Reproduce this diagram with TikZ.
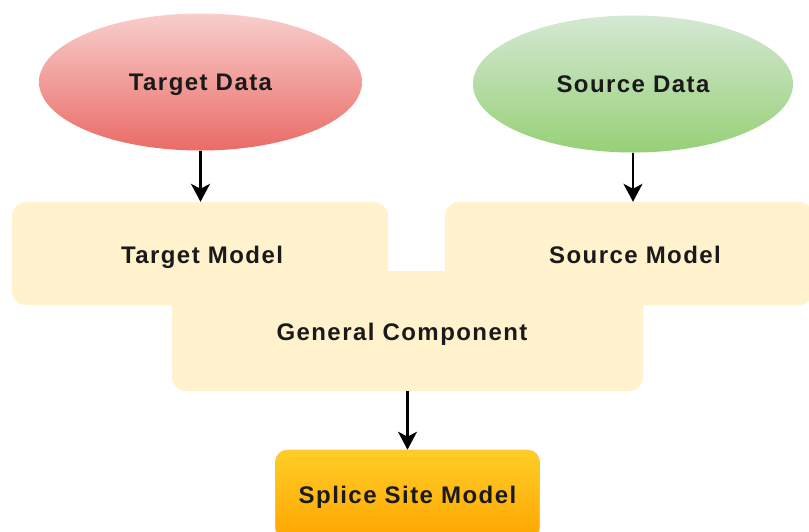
\documentclass[tikz,border=0pt]{standalone}
\usepackage{fontspec}
\newfontfamily\labfont{Liberation Sans}[LetterSpace=6]
\usetikzlibrary{shapes.geometric,arrows.meta}
\definecolor{redtop}{HTML}{F8CECC}
\definecolor{redbot}{HTML}{EA6B66}
\definecolor{greentop}{HTML}{D5E8D4}
\definecolor{greenbot}{HTML}{97D077}
\definecolor{modelfill}{HTML}{FFF2CC}
\definecolor{orangetop}{HTML}{FFCD28}
\definecolor{orangebot}{HTML}{FFA500}
\definecolor{txt}{HTML}{1A1A1A}
\tikzset{
  lab/.style={font=\labfont\bfseries\fontsize{24}{28}\selectfont, text=txt, text height=17pt, text depth=0pt},
  datanode/.style={ellipse, draw=none, inner sep=0pt, lab},
  modelbox/.style={rectangle, rounded corners=14pt, fill=modelfill, draw=none, inner sep=0pt},
  labelnode/.style={inner sep=0pt, lab},
  flow/.style={line width=2.2pt, draw=black, -{Stealth[width=19pt,length=18pt,inset=5pt]}}
}
\begin{document}
\begin{tikzpicture}[x=1pt,y=-1pt]
\useasboundingbox (0,0) rectangle (809,531);
\clip (0,0) rectangle (809,531);
% data ellipses
\node[datanode, minimum width=323pt, minimum height=137pt, top color=redtop, bottom color=redbot] (td) at (200.5,82) {Target Data};
\node[datanode, minimum width=320pt, minimum height=137pt, top color=greentop, bottom color=greenbot] (sd) at (633,84) {Source Data};
% model boxes (merged shape)
\node[modelbox, minimum width=376pt, minimum height=103pt] (tm) at (200,253.5) {};
\node[modelbox, minimum width=368pt, minimum height=103pt] (sm) at (629,253.5) {};
\node[modelbox, minimum width=471pt, minimum height=120pt] (gc) at (407.5,331) {};
\node[labelnode] (tml) at (202,255) {Target Model};
\node[labelnode] (sml) at (635,255) {Source Model};
\node[labelnode] (gcl) at (402,332) {General Component};
% splice site model
\node[rectangle, rounded corners=12pt, minimum width=264pt, minimum height=90pt, inner sep=0pt,
      top color=orangetop, bottom color=orangebot, draw=orangebot!70!white, line width=0.6pt, lab] (ss) at (407.5,495) {Splice Site Model};
% connectors
\draw[flow] (td.south) -- (td.south |- tm.north);
\draw[flow] (sd.south) -- (sd.south |- sm.north);
\draw[flow] (gc.south) -- (ss.north);
\end{tikzpicture}
\end{document}
